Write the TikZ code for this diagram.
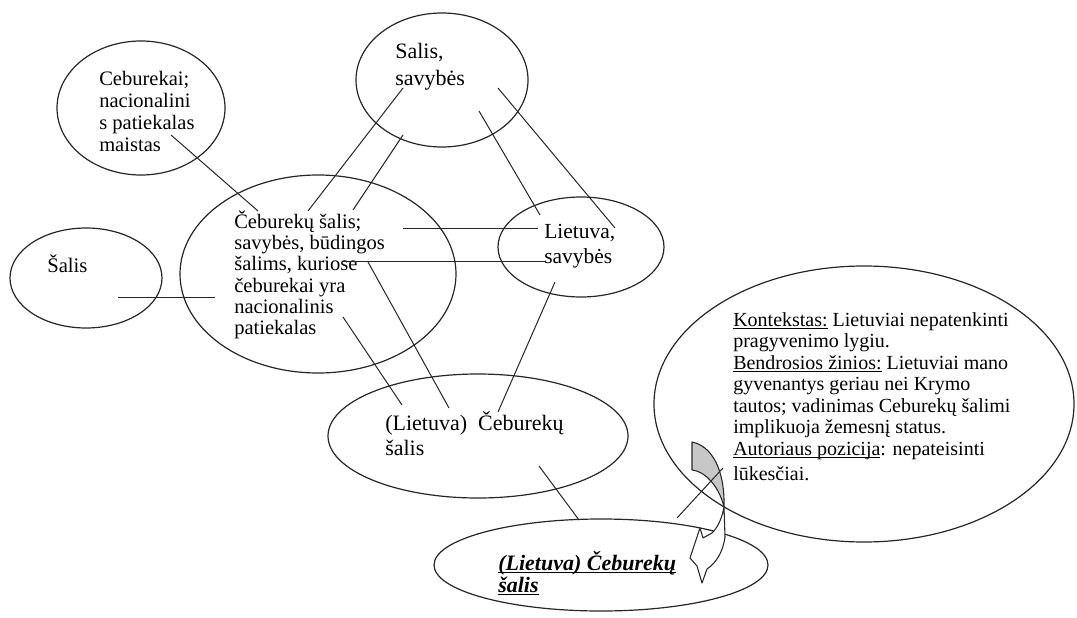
\documentclass[tikz,border=0pt]{standalone}
\usepackage{fontspec}
\setmainfont{Liberation Serif}
\usetikzlibrary{shapes.geometric}
% underline kept close to the baseline, crossing descenders
\newcommand{\ulbase}[1]{\underline{\smash{#1}}}
\begin{document}
\begin{tikzpicture}[x=0.75pt,y=-0.75pt,
  bubble/.style={draw=black!85, line width=0.9pt, ellipse, inner sep=0pt},
  link/.style={draw=black!85, line width=0.75pt},
  txt/.style={anchor=base west, align=left, inner sep=0pt, text=black},
  ribbon/.style={draw=black!85, line width=0.8pt, line join=round}
]
\useasboundingbox (0,0) rectangle (1077,617);

% the bottom ellipse lies behind the curved arrow
\node[bubble, minimum width=250.5pt, minimum height=69pt] (bot) at (601,565) {};

% curved block arrow: grey front face and white turned-over part
\path[ribbon, fill=black!22] (692,442) .. controls (712,446) and (725,470) .. (724,507)
  .. controls (720,490) and (708,472) .. (692,470) -- cycle;
\path[ribbon, fill=white] (724,507) -- (725,537) .. controls (723,552) and (716,563) .. (707,569)
  -- (702,583) -- (697,566) -- (690,558) -- (700,528) -- (703,538) -- (712,533)
  .. controls (718,527) and (722,518) .. (724,507) -- cycle;

% ellipses
\node[bubble, minimum width=126pt, minimum height=100.5pt] (ceb) at (141,108) {};
\node[bubble, minimum width=129pt, minimum height=100.5pt] (sav) at (442,80) {};
\node[bubble, minimum width=114pt, minimum height=75pt] (sal) at (86,278) {};
\node[bubble, minimum width=207pt, minimum height=148.5pt] (main) at (318,274) {};
\node[bubble, minimum width=124.5pt, minimum height=75pt] (liet) at (581,247) {};
\node[bubble, minimum width=225pt, minimum height=93pt] (lcs) at (478,436) {};
\node[bubble, minimum width=315pt, minimum height=207pt] (ctx) at (864,404) {};

% texts (each node is placed by the baseline of its last line)
\node[txt, font=\fontsize{15.4}{16.5}\selectfont] (tceb) at (99,151)
  {Ceburekai;\\nacionalini\\s patiekalas\\maistas};
\node[txt, font=\fontsize{16.5}{20.25}\selectfont] (tsav) at (395,85) {Salis,\\savybės};
\node[txt, font=\fontsize{15.5}{16}\selectfont] (tsal) at (47,272) {Šalis};
\node[txt, font=\fontsize{15.4}{15.9}\selectfont] (tmain) at (234,334.5)
  {Čeburekų šalis;\\savybės, būdingos\\šalims, kuriose\\čeburekai yra\\nacionalinis\\patiekalas};
\node[txt, font=\fontsize{16.1}{18.75}\selectfont] (tliet) at (544,263) {Lietuva,\\savybės};
\node[txt, font=\fontsize{16.5}{18.75}\selectfont] (tlcs) at (385,455) {(Lietuva)\ \ Čeburekų\\šalis};
\node[txt, font=\fontsize{16.5}{16.5}\selectfont\bfseries\itshape] (tbot) at (498,592)
  {\ulbase{(Lietuva) Čeburekų}\\\ulbase{šalis}};
\node[txt, font=\fontsize{15}{16.1}\selectfont] (tctx) at (733,480.5)
  {\ulbase{Kontekstas:} Lietuviai nepatenkinti\\
   pragyvenimo lygiu.\\
   \ulbase{Bendrosios žinios:} Lietuviai mano\\
   gyvenantys geriau nei Krymo\\
   tautos; vadinimas Ceburekų šalimi\\
   implikuoja žemesnį status.\\
   \ulbase{Autoriaus pozicija}: nepateisinti\\[3pt]
   lūkesčiai.};

% connector end points
\path (171,135) coordinate (a1) (258,211) coordinate (b1)
      (403,88)  coordinate (a2) (308,211) coordinate (b2)
      (403,135) coordinate (a3) (353,210) coordinate (b3)
      (479,111) coordinate (a4) (540,215) coordinate (b4)
      (498,88)  coordinate (a5) (615,228) coordinate (b5)
      (403,228) coordinate (a6) (538,228) coordinate (b6)
      (342,261) coordinate (a7) (545,261) coordinate (b7)
      (118,297) coordinate (a8) (215,297) coordinate (b8)
      (343,317) coordinate (a9) (402,405) coordinate (b9)
      (368,262) coordinate (a10) (449,408) coordinate (b10)
      (555,282) coordinate (a11) (498,412) coordinate (b11)
      (539,466) coordinate (a12) (579,520) coordinate (b12)
      (723,468) coordinate (a13) (677,518) coordinate (b13);

% connectors
\foreach \i in {1,...,13} \draw[link] (a\i) -- (b\i);
\end{tikzpicture}
\end{document}
